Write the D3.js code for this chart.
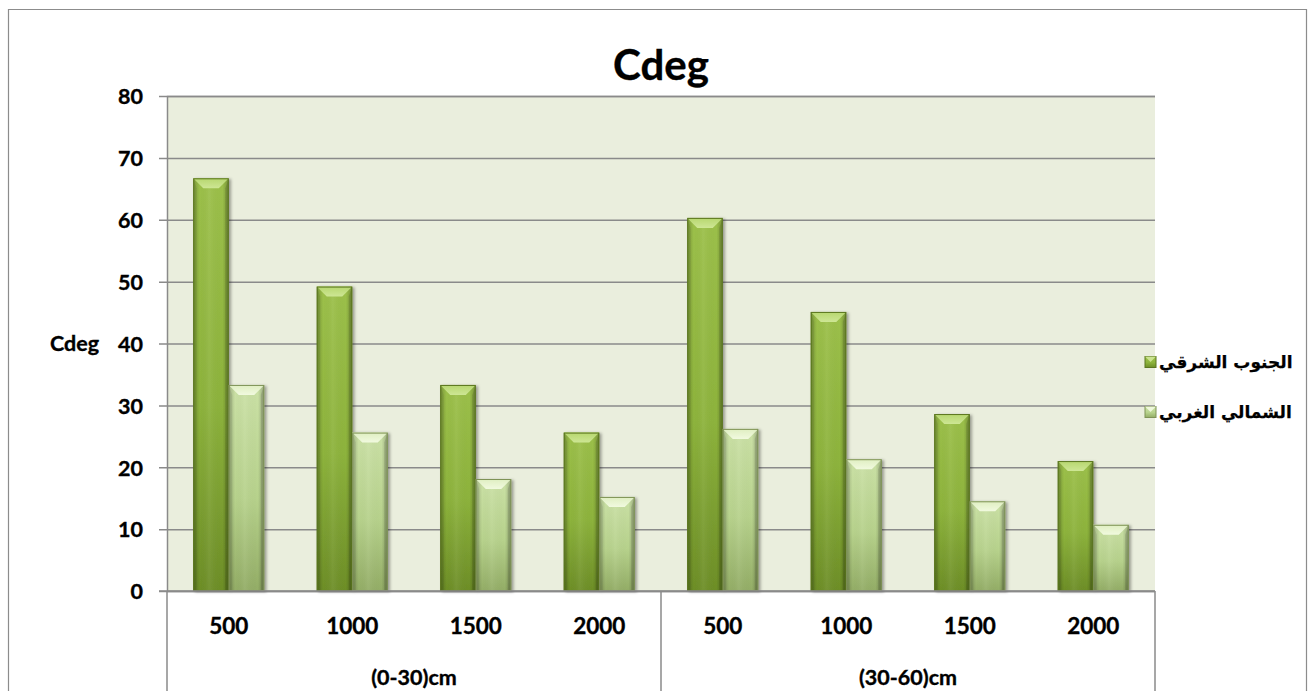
<!DOCTYPE html>
<html>
<head>
<meta charset="utf-8">
<script src="https://cdn.jsdelivr.net/npm/d3@7"></script>
<style>
  html, body { margin: 0; padding: 0; background: #ffffff; }
  svg { display: block; }
  .lbl { font-family: Lato, "Open Sans", sans-serif; font-weight: bold; fill: #000; stroke: #000; stroke-width: 0.35px; }
  .ar { font-family: "DejaVu Sans", sans-serif; font-weight: bold; fill: #000; stroke: #000; stroke-width: 0.25px; }
</style>
</head>
<body>
<svg id="chart" width="1315" height="691"></svg>
<script>
// Depth classes along the x axis, and the sub-categories in each
const groups = ["(0-30)cm", "(30-60)cm"];
const categories = ["500", "1000", "1500", "2000"];
// Series (legend names are Arabic)
const seriesNames = ["الجنوب الشرقي", "الشمالي الغربي"];
const southEast = [66.7, 49.2, 33.3, 25.6, 60.3, 45.1, 28.6, 21.0];
const northWest = [33.3, 25.6, 18.1, 15.2, 26.2, 21.3, 14.5, 10.7];
const yTicks = [0, 10, 20, 30, 40, 50, 60, 70, 80];
const chartTitle = "Cdeg";
const yTitle = "Cdeg";

const svg = d3.select("#chart");
const plot = { left: 167, right: 1155, top: 96, bottom: 591 };

// one slot per (group, category)
const slots = [];
groups.forEach((g, gi) => categories.forEach((c, ci) => slots.push({ g, gi, c, ci, i: slots.length })));

const x = d3.scaleBand()
  .domain(slots.map(d => d.i))
  .range([plot.left, plot.right])
  .paddingInner(0.425)
  .paddingOuter(0.2125);
const xs = d3.scaleBand().domain([0, 1]).range([0, x.bandwidth()]);
const y = d3.scaleLinear().domain([0, 80]).range([plot.bottom, plot.top]);

// ---- gradients / filters ----
const defs = svg.append("defs");
const palettes = [
  { top: "#9cc04a", mid: "#8db33c", bot: "#6d8e27", edge: "#5b7620", bevel: "#b8d870", bevelHi: "#d0e898" },
  { top: "#cbe1a6", mid: "#b7d28c", bot: "#93ad66", edge: "#7f9356", bevel: "#e0efc2", bevelHi: "#f3fbe2" }
];
palettes.forEach((p, k) => {
  const v = defs.append("linearGradient").attr("id", "v" + k).attr("x1", 0).attr("y1", 0).attr("x2", 0).attr("y2", 1);
  v.append("stop").attr("offset", "0%").attr("stop-color", p.top);
  v.append("stop").attr("offset", "55%").attr("stop-color", p.mid);
  v.append("stop").attr("offset", "100%").attr("stop-color", p.bot);
  const tb = defs.append("linearGradient").attr("id", "tb" + k).attr("x1", 0).attr("y1", 0).attr("x2", 0).attr("y2", 1);
  tb.append("stop").attr("offset", "0%").attr("stop-color", p.bevel);
  tb.append("stop").attr("offset", "100%").attr("stop-color", p.bevelHi);
});
const h = defs.append("linearGradient").attr("id", "hs").attr("x1", 0).attr("y1", 0).attr("x2", 1).attr("y2", 0);
h.append("stop").attr("offset", "0%").attr("stop-color", "#000").attr("stop-opacity", 0.22);
h.append("stop").attr("offset", "18%").attr("stop-color", "#000").attr("stop-opacity", 0.0);
h.append("stop").attr("offset", "45%").attr("stop-color", "#fff").attr("stop-opacity", 0.06);
h.append("stop").attr("offset", "82%").attr("stop-color", "#000").attr("stop-opacity", 0.0);
h.append("stop").attr("offset", "100%").attr("stop-color", "#000").attr("stop-opacity", 0.25);
const sh = defs.append("filter").attr("id", "shadow").attr("x", "-20%").attr("y", "-5%").attr("width", "150%").attr("height", "110%");
sh.append("feDropShadow").attr("dx", 2).attr("dy", 1).attr("stdDeviation", 1.5).attr("flood-color", "#000").attr("flood-opacity", 0.35);

// ---- outer frame ----
svg.append("path")
  .attr("d", "M8.5,700 V9.5 H1306.5 V700")
  .attr("fill", "none").attr("stroke", "#8c8c8c").attr("stroke-width", 1.2);

// ---- plot background + gridlines ----
svg.append("rect")
  .attr("x", plot.left).attr("y", plot.top)
  .attr("width", plot.right - plot.left).attr("height", plot.bottom - plot.top)
  .attr("fill", "#eaeedd");

const yAxis = d3.axisLeft(y).tickValues(yTicks).tickSize(-(plot.right - plot.left)).tickPadding(24).tickFormat(d3.format("d"));
const ya = svg.append("g").attr("transform", `translate(${plot.left},0)`).call(yAxis);
ya.select(".domain").attr("stroke", "#8a8a8a").attr("stroke-width", 1.5);
ya.selectAll(".tick line").attr("stroke", "#8a8a8a").attr("stroke-width", 1.5).attr("x1", -8);
ya.selectAll(".tick text").attr("class", "lbl").style("font-size", "21.5px").attr("dy", "0.36em").attr("x", -24);

// ---- bars ----
const bevel = 10;
function drawBar(g, x0, w, v, k) {
  const y0 = y(v), hgt = y(0) - y(v);
  const p = palettes[k];
  const bar = g.append("g").attr("filter", "url(#shadow)");
  bar.append("rect").attr("x", x0).attr("y", y0).attr("width", w).attr("height", hgt).attr("fill", `url(#v${k})`);
  bar.append("rect").attr("x", x0).attr("y", y0).attr("width", w).attr("height", hgt).attr("fill", "url(#hs)");
  const b = Math.min(bevel, hgt / 2);
  // top bevel face
  bar.append("path")
    .attr("d", `M${x0},${y0} H${x0 + w} L${x0 + w - b},${y0 + b} H${x0 + b} Z`)
    .attr("fill", `url(#tb${k})`).attr("opacity", 0.95);
  // side bevel faces
  bar.append("path")
    .attr("d", `M${x0},${y0} L${x0 + b * 0.35},${y0 + b} V${y0 + hgt} H${x0} Z`)
    .attr("fill", "#000").attr("opacity", 0.08);
  bar.append("path")
    .attr("d", `M${x0 + w},${y0} L${x0 + w - b * 0.35},${y0 + b} V${y0 + hgt} H${x0 + w} Z`)
    .attr("fill", "#000").attr("opacity", 0.12);
  bar.append("rect").attr("x", x0 + 0.5).attr("y", y0 + 0.5).attr("width", w - 1).attr("height", hgt - 1)
    .attr("fill", "none").attr("stroke", p.edge).attr("stroke-width", 1);
}
const barsG = svg.append("g");
slots.forEach(s => {
  const bx = x(s.i);
  drawBar(barsG, bx + xs(0), xs.bandwidth(), southEast[s.i], 0);
  drawBar(barsG, bx + xs(1), xs.bandwidth(), northWest[s.i], 1);
});

// ---- category axis (two levels) ----
svg.append("line").attr("x1", plot.left - 8).attr("x2", plot.right).attr("y1", plot.bottom).attr("y2", plot.bottom)
  .attr("stroke", "#8a8a8a").attr("stroke-width", 1.5);
const step = x.step();
const groupBounds = groups.map((g, gi) => ({
  g,
  start: plot.left + gi * categories.length * step,
  end: plot.left + (gi + 1) * categories.length * step
}));
const sep = [plot.left, ...groupBounds.map(d => d.end)];
svg.selectAll(".sep").data(sep).join("line")
  .attr("x1", d => d).attr("x2", d => d).attr("y1", plot.bottom).attr("y2", 691)
  .attr("stroke", "#8a8a8a").attr("stroke-width", 1.5);

svg.selectAll(".cat").data(slots).join("text")
  .attr("class", "lbl").style("font-size", "22.5px")
  .attr("text-anchor", "middle")
  .attr("x", d => x(d.i) + x.bandwidth() / 2)
  .attr("y", 634)
  .text(d => d.c);
svg.selectAll(".grp").data(groupBounds).join("text")
  .attr("class", "lbl").style("font-size", "21.5px")
  .attr("text-anchor", "middle")
  .attr("x", d => (d.start + d.end) / 2)
  .attr("y", 685)
  .text(d => d.g);

// ---- titles ----
svg.append("text").attr("class", "lbl").style("font-size", "42px")
  .attr("text-anchor", "middle").attr("x", 661).attr("y", 80).text(chartTitle);
svg.append("text").attr("class", "lbl").style("font-size", "21.5px")
  .attr("x", 50).attr("y", 351).text(yTitle);

// ---- legend ----
const legend = svg.append("g");
seriesNames.forEach((name, k) => {
  const ly = 362 + k * 50;
  const mx = 1145, ms = 11;
  const m = legend.append("g");
  m.append("rect").attr("x", mx).attr("y", ly - ms / 2).attr("width", ms).attr("height", ms)
    .attr("fill", `url(#v${k})`).attr("stroke", palettes[k].edge).attr("stroke-width", 1);
  m.append("path").attr("d", `M${mx},${ly - ms / 2} h${ms} l-${ms / 2},${ms / 2} Z`).attr("fill", palettes[k].bevelHi).attr("opacity", 0.9);
  legend.append("text").attr("class", "ar").style("font-size", "17px")
    .attr("x", 1159).attr("y", ly).attr("dy", "0.35em")
    .attr("direction", "rtl").attr("text-anchor", "end")
    .text(name);
});
</script>
</body>
</html>
